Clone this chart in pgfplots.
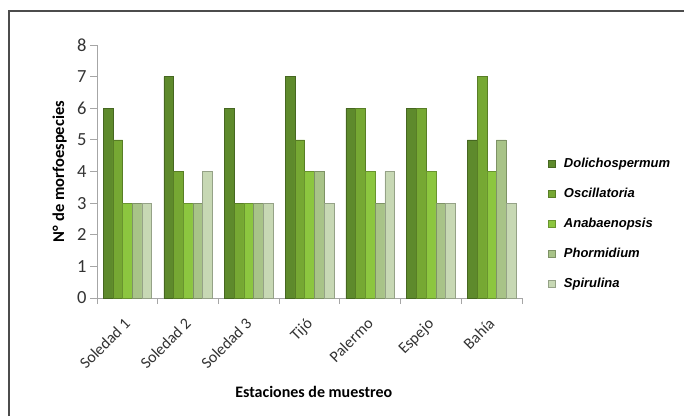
\documentclass[border=0pt]{standalone}
\usepackage{pgfplots}
\pgfplotsset{compat=1.18}
\usepackage{fontspec}
\setmainfont{Carlito}
\newfontfamily\legfont{Liberation Sans}
\definecolor{cA}{HTML}{5E8A2C}
\definecolor{cB}{HTML}{76A833}
\definecolor{cC}{HTML}{8CC63F}
\definecolor{cD}{HTML}{A8C388}
\definecolor{cE}{HTML}{C7D8B4}
\begin{document}
\begin{tikzpicture}[x=1pt,y=1pt]
\useasboundingbox (0,0) rectangle (684,416);
\draw[black!70, line width=1.5pt] (9,0) -- (9,405) -- (684,405);
\begin{axis}[
  at={(97pt,118pt)}, anchor=south west,
  scale only axis, width=425pt, height=253pt,
  ybar=0pt, bar width=9.7pt,
  xmin=-0.5, xmax=6.5, ymin=0, ymax=8,
  ytick={0,...,8},
  xtick={0,...,6},
  xticklabels={Soledad 1,Soledad 2,Soledad 3,Tijó,Palermo,Espejo,Bahía},
  major x tick style={draw=none},
  minor xtick={-0.5,0.5,...,6.5},
  minor tick length=6pt,
  major tick length=7pt,
  tick align=outside,
  axis x line*=bottom, axis y line*=left,
  axis line style={black!35, line width=0.8pt},
  every tick/.style={black!35, line width=0.8pt},
  /pgf/number format/assume math mode=true,
  yticklabel style={font=\fontsize{18.5}{19}\selectfont, text=black!80},
  xticklabel style={font=\fontsize{16}{18}\selectfont, xshift=-4pt, yshift=-7pt, rotate=45, anchor=north east, text=black!80},
  ylabel={N° de morfoespecies},
  ylabel style={at={(axis description cs:-0.088,0.5)}, anchor=center, rotate=0, font=\bfseries\fontsize{16.5}{18}\selectfont},
  xlabel={Estaciones de muestreo},
  xlabel style={at={(axis description cs:0.51,-0.37)}, anchor=center, font=\bfseries\fontsize{16}{18}\selectfont},
  legend style={at={(axis description cs:1.053,0.568)}, anchor=north west, draw=none, fill=none,
    font=\legfont\bfseries\itshape\fontsize{13}{14}\selectfont, row sep=15pt},
  legend cell align=left,
  legend image code/.code={\draw[#1] (0pt,-3.5pt) rectangle (7pt,3.5pt); \path[draw=none,fill=none] (0pt,0pt) -- (14pt,0pt);},
]
\addplot[fill=cA, draw=cA!75!black] coordinates {(0,6) (1,7) (2,6) (3,7) (4,6) (5,6) (6,5)};
\addplot[fill=cB, draw=cB!75!black] coordinates {(0,5) (1,4) (2,3) (3,5) (4,6) (5,6) (6,7)};
\addplot[fill=cC, draw=cC!75!black] coordinates {(0,3) (1,3) (2,3) (3,4) (4,4) (5,4) (6,4)};
\addplot[fill=cD, draw=cD!75!black] coordinates {(0,3) (1,3) (2,3) (3,4) (4,3) (5,3) (6,5)};
\addplot[fill=cE, draw=cE!75!black] coordinates {(0,3) (1,4) (2,3) (3,3) (4,4) (5,3) (6,3)};
\legend{Dolichospermum,Oscillatoria,Anabaenopsis,Phormidium,Spirulina}
\end{axis}
\end{tikzpicture}
\end{document}
